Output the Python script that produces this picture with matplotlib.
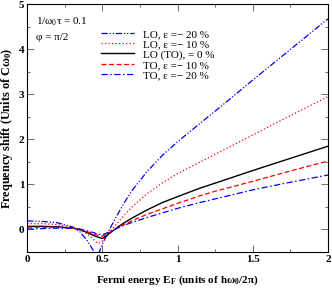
import matplotlib
matplotlib.use("Agg")
import matplotlib.pyplot as plt
from matplotlib.ticker import MultipleLocator

E_F = [0, 0.1, 0.2, 0.3, 0.35, 0.4, 0.44, 0.47, 0.5, 0.55, 0.6, 0.65, 0.7, 0.8, 0.9, 1.0, 1.15, 1.25, 1.5, 1.75, 2.0]
lo_m20 = [0.19, 0.18, 0.15, 0.06, -0.05, -0.25, -0.47, -0.58, -0.32, 0.02, 0.33, 0.62, 0.88, 1.3, 1.65, 1.95, 2.36, 2.63, 3.32, 4.0, 4.68]
lo_m10 = [0.13, 0.13, 0.11, 0.05, -0.01, -0.1, -0.22, -0.31, -0.26, -0.05, 0.15, 0.34, 0.51, 0.8, 1.04, 1.24, 1.5, 1.67, 2.1, 2.53, 2.95]
lo_0 = [0.07, 0.07, 0.06, 0.03, 0.0, -0.07, -0.13, -0.17, -0.2, -0.08, 0.05, 0.16, 0.26, 0.44, 0.6, 0.73, 0.92, 1.03, 1.31, 1.58, 1.85]
to_m10 = [0.05, 0.05, 0.05, 0.03, 0.0, -0.05, -0.1, -0.13, -0.15, -0.06, 0.04, 0.12, 0.2, 0.34, 0.46, 0.58, 0.75, 0.85, 1.07, 1.3, 1.52]
to_m20 = [0.01, 0.02, 0.03, 0.03, 0.01, -0.03, -0.07, -0.1, -0.12, -0.05, 0.03, 0.1, 0.16, 0.27, 0.37, 0.47, 0.6, 0.68, 0.88, 1.05, 1.21]

labels = ["LO, ε =− 20 %", "LO, ε =− 10 %", "LO (TO), = 0 %", "TO, ε =− 10 %", "TO, ε =− 20 %"]

plt.rcParams['font.family'] = ['Liberation Serif', 'DejaVu Serif']
plt.rcParams['mathtext.fontset'] = 'custom'
plt.rcParams['mathtext.rm'] = 'Liberation Serif'
plt.rcParams['mathtext.it'] = 'Liberation Serif'
plt.rcParams['mathtext.bf'] = 'Liberation Serif:bold'

fig = plt.figure(figsize=(3.32, 2.92), dpi=100)
ax = fig.add_axes([0.082, 0.137, 0.906, 0.848])

lw = 0.9
ax.plot(E_F, lo_m20, color='#0000ff', lw=lw, dashes=(5, 1.5, 1, 1.5, 1, 1.5), label=labels[0])
ax.plot(E_F, lo_m10, color='#ff0000', lw=lw, dashes=(1, 1.8), label=labels[1])
ax.plot(E_F, lo_0, color='black', lw=1.0, label=labels[2])
ax.plot(E_F, to_m10, color='#ff0000', lw=lw, dashes=(4, 2), label=labels[3])
ax.plot(E_F, to_m20, color='#0000ff', lw=lw, dashes=(5, 2, 1.2, 2), label=labels[4])

ax.set_xlim(0, 2)
ax.set_ylim(-0.5, 5)
ax.xaxis.set_major_locator(MultipleLocator(0.5))
ax.xaxis.set_minor_locator(MultipleLocator(0.25))
ax.yaxis.set_major_locator(MultipleLocator(1))
ax.yaxis.set_minor_locator(MultipleLocator(0.5))
ax.set_xticks([0, 0.5, 1, 1.5, 2])
ax.set_xticklabels(['0', '0.5', '1', '1.5', '2'])
ax.set_yticks([0, 1, 2, 3, 4, 5])
ax.tick_params(which='both', direction='in', top=True, right=True, width=0.6, color='#555555')
ax.tick_params(which='major', length=5, labelsize=8, pad=2)
ax.tick_params(which='minor', length=2.5)
for t in ax.get_xticklabels() + ax.get_yticklabels():
    t.set_fontweight('bold')
for s in ax.spines.values():
    s.set_linewidth(0.8)

ax.set_xlabel(r'Fermi energy E$_\mathbf{F}$ (units of h$\mathbf{\omega_0}$/2$\mathbf{\pi}$)', fontsize=8, fontweight='bold', labelpad=7)
ax.set_ylabel(r'Frequency shift (Units of C$\mathbf{\omega_0}$)', fontsize=8.8, fontweight='bold', labelpad=3)

ax.text(0.03, 0.955, r'1/$\omega_0\tau$ = 0.1', transform=ax.transAxes, fontsize=8, va='top')
ax.text(0.03, 0.885, 'φ = π/2', transform=ax.transAxes, fontsize=8, va='top')

leg = ax.legend(loc='upper left', bbox_to_anchor=(0.245, 0.9), frameon=False, fontsize=8,
                handlelength=3.0, handletextpad=0.8, labelspacing=0.04, borderaxespad=0, borderpad=0)

fig.savefig('out.png', dpi=100)
